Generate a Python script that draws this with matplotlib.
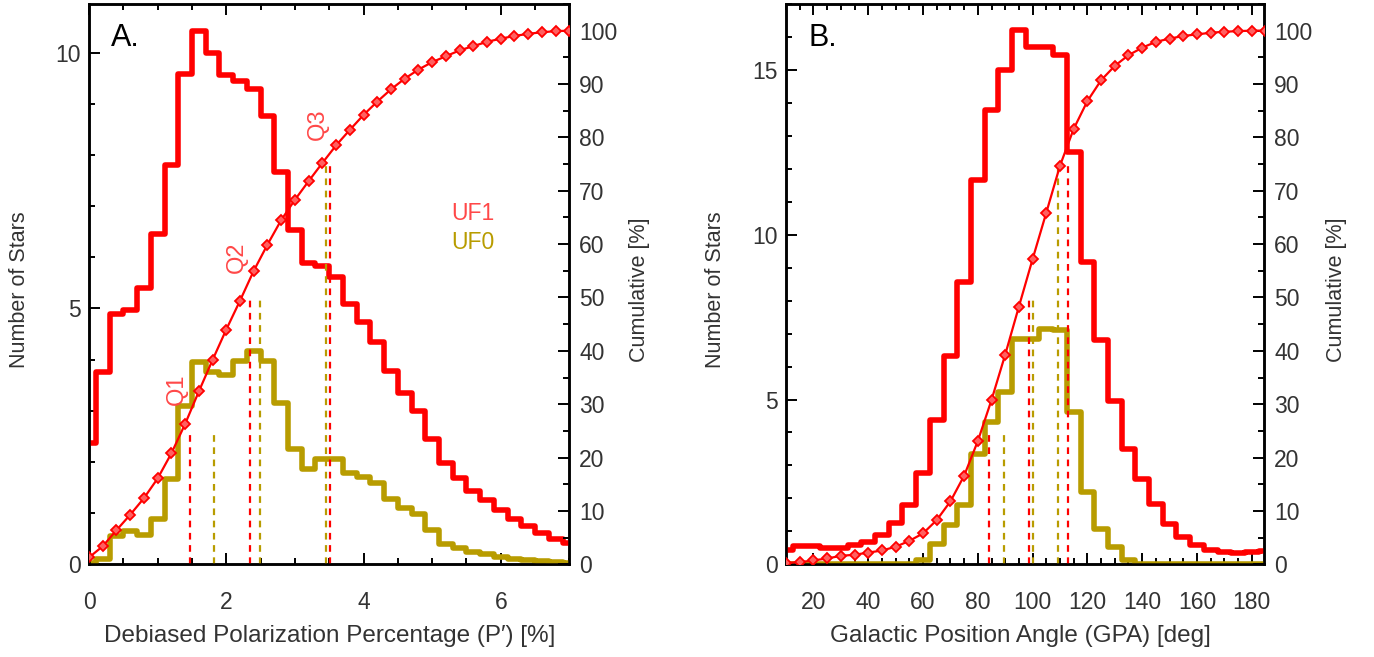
import numpy as np
import matplotlib
matplotlib.use("Agg")
import matplotlib.pyplot as plt
from matplotlib.ticker import MultipleLocator

plt.rcParams["font.family"] = ["Liberation Sans", "DejaVu Sans"]

RED = "#ff0000"
OLIVE = "#b89c00"
TXT = "#333333"

# ---- panel A: debiased polarization percentage ----
p_x = np.round(np.arange(0, 7.01, 0.2), 1)
p_uf1 = [2.37, 3.75, 4.89, 4.97, 5.40, 6.45, 7.80, 9.59, 10.43, 10.00,
         9.57, 9.45, 9.28, 8.76, 7.67, 6.53, 5.88, 5.83, 5.62, 5.09,
         4.74, 4.35, 3.77, 3.35, 2.99, 2.45, 1.98, 1.69, 1.44, 1.25,
         1.06, 0.88, 0.75, 0.62, 0.50, 0.41]
p_uf0 = [0.02, 0.10, 0.55, 0.65, 0.57, 0.88, 1.66, 3.09, 3.96, 3.75,
         3.70, 3.98, 4.16, 3.98, 3.16, 2.25, 1.87, 2.06, 2.06, 1.79,
         1.71, 1.59, 1.27, 1.10, 0.99, 0.67, 0.39, 0.31, 0.24, 0.20,
         0.15, 0.11, 0.08, 0.06, 0.04, 0.02]
p_cum = [1.3, 3.4, 6.4, 9.3, 12.4, 16.1, 20.8, 26.3, 32.4, 38.3,
         44.0, 49.4, 55.0, 59.9, 64.5, 68.3, 71.8, 75.2, 78.5, 81.4,
         84.2, 86.7, 89.0, 91.0, 92.7, 94.1, 95.2, 96.3, 97.1, 97.9,
         98.5, 99.0, 99.4, 99.7, 99.9, 100.0]
p_q_uf1 = [1.47, 2.34, 3.51]
p_q_uf0 = [1.82, 2.49, 3.46]

# ---- panel B: galactic position angle ----
g_x = np.arange(10, 186, 5)
g_uf1 = [0.45, 0.55, 0.55, 0.50, 0.50, 0.58, 0.68, 0.90, 1.26, 1.81,
         2.77, 4.39, 6.33, 8.58, 11.66, 13.78, 14.99, 16.21, 15.68, 15.68,
         15.45, 12.50, 9.18, 6.82, 4.97, 3.50, 2.58, 1.82, 1.23, 0.83,
         0.58, 0.45, 0.37, 0.35, 0.37, 0.42]
g_uf0 = [0, 0, 0, 0, 0, 0, 0, 0, 0, 0.02,
         0.12, 0.63, 1.18, 1.81, 3.35, 4.33, 5.24, 6.84, 6.84, 7.14,
         7.12, 4.62, 2.21, 1.06, 0.53, 0.12, 0, 0, 0, 0,
         0, 0, 0, 0, 0, 0]
g_cum = [0.3, 0.4, 0.75, 1.1, 1.6, 1.8, 2.2, 2.6, 3.3, 4.4,
         5.8, 8.3, 11.8, 16.6, 23.1, 30.8, 39.3, 48.3, 57.2, 65.9,
         74.7, 81.6, 86.8, 90.7, 93.4, 95.4, 96.8, 97.9, 98.5, 99.0,
         99.3, 99.6, 99.8, 99.9, 100.0, 100.0]
g_q_uf1 = [83.9, 98.7, 113.0]
g_q_uf0 = [89.4, 100.0, 109.1]

q_levels = [25, 50, 75]


def style(ax):
    for s in ax.spines.values():
        s.set_linewidth(1.8)
    ax.tick_params(which="both", direction="in", width=1.4, colors="black",
                   labelcolor=TXT, labelsize=16.5)
    ax.tick_params(which="major", length=8)
    ax.tick_params(which="minor", length=4.5)


def panel(ax, x, uf1, uf0, cum, q1, q0, xlim, ymax, xmaj, xmin, letter, xlabel,
          ylab_x, y2lab_x, xlab_x):
    ax.plot(x, uf1, drawstyle="steps-mid", color=RED, lw=4, zorder=3)
    ax.plot(x, uf0, drawstyle="steps-mid", color=OLIVE, lw=4, zorder=3)
    ax.set_xlim(*xlim)
    ax.set_ylim(0, ymax)
    ax.xaxis.set_major_locator(MultipleLocator(xmaj))
    ax.xaxis.set_minor_locator(MultipleLocator(xmin))
    ax.yaxis.set_major_locator(MultipleLocator(5))
    ax.yaxis.set_minor_locator(MultipleLocator(1))
    style(ax)
    ax.tick_params(axis="x", which="both", top=True, pad=19)
    ax.tick_params(axis="y", which="both", right=False, pad=6)
    ax.set_ylabel("Number of Stars", fontsize=15.5, color=TXT)
    ax.yaxis.set_label_coords(ylab_x, 0.49)
    ax.set_xlabel(xlabel, fontsize=17.5, color=TXT)
    ax.xaxis.set_label_coords(xlab_x, -0.108)
    ax.text(0.046, 0.925, letter, transform=ax.transAxes, fontsize=22,
            ha="left", va="baseline", color="black")

    ax2 = ax.twinx()
    ax2.set_ylim(0, 105)
    ax2.yaxis.set_major_locator(MultipleLocator(10))
    ax2.yaxis.set_minor_locator(MultipleLocator(5))
    style(ax2)
    ax2.tick_params(axis="y", pad=7)
    ax2.plot(x, cum, color=RED, lw=1.6, marker="D", ms=4.6, mfc="#ff6060",
             mec=RED, mew=1.3, zorder=4)
    for q, lev in zip(q1, q_levels):
        ax2.plot([q, q], [0, lev], color=RED, lw=1.6, ls=(0, (3, 2.5)))
    for q, lev in zip(q0, q_levels):
        ax2.plot([q, q], [0, lev], color=OLIVE, lw=1.6, ls=(0, (3, 2.5)))
    ax2.set_ylabel("Cumulative [%]", fontsize=15.5, color=TXT)
    ax2.yaxis.set_label_coords(y2lab_x, 0.49)
    return ax2


fig = plt.figure(figsize=(13.74, 6.57), dpi=100)
axA = fig.add_axes([0.0648, 0.141, 0.3496, 0.853])
axB = fig.add_axes([0.5721, 0.141, 0.3481, 0.853])

a2 = panel(axA, p_x, p_uf1, p_uf0, p_cum, p_q_uf1, p_q_uf0, (0, 7), 10.95, 2, 0.5,
           "A.", "Debiased Polarization Percentage (P\u2032) [%]", -0.123, 1.125, 0.5)
b2 = panel(axB, g_x, g_uf1, g_uf0, g_cum, g_q_uf1, g_q_uf0, (10, 184.6), 17.0, 20, 5,
           "B.", "Galactic Position Angle (GPA) [deg]", -0.1255, 1.128, 0.49)

# quartile labels and legend in panel A
for xq, yq, s in [(1.28, 32.8, "Q1"), (2.16, 57.5, "Q2"), (3.34, 82.5, "Q3")]:
    a2.text(xq, yq, s, rotation=90, color="#ff4848", fontsize=17,
            ha="center", va="center")
axA.text(0.754, 0.626, "UF1", transform=axA.transAxes, color="#ff4848",
         fontsize=16.5, ha="left", va="center")
axA.text(0.754, 0.575, "UF0", transform=axA.transAxes, color=OLIVE,
         fontsize=16.5, ha="left", va="center")

fig.savefig("out.png", dpi=100)
